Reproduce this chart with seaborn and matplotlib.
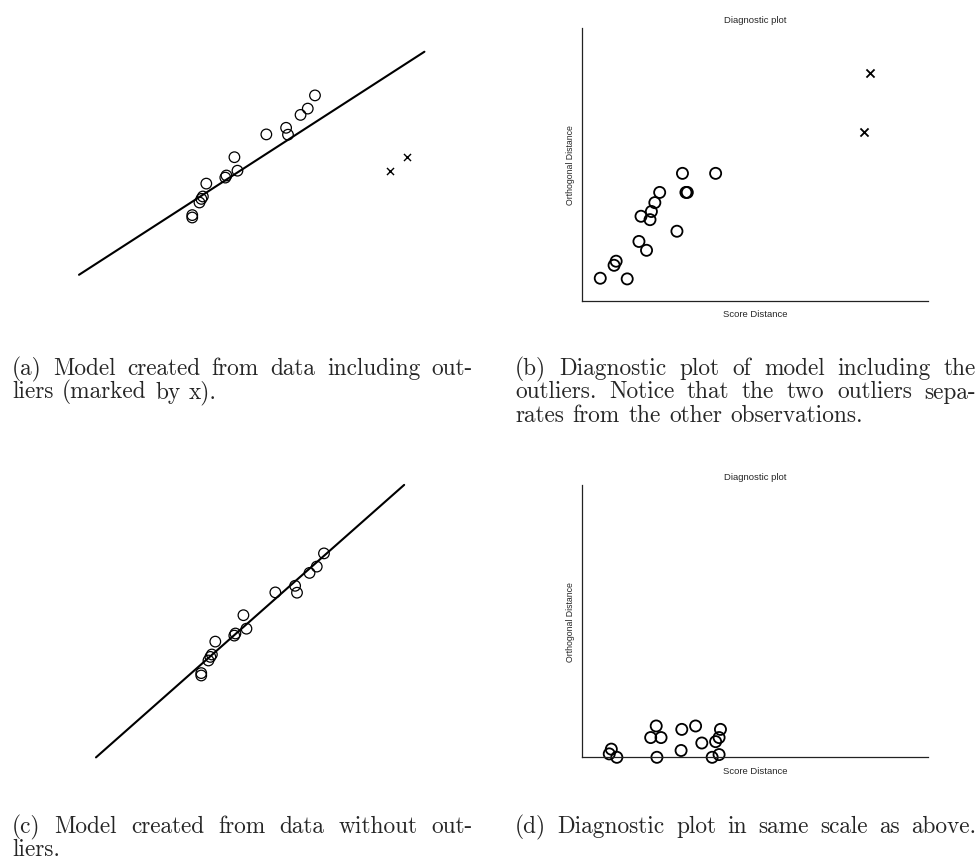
import numpy as np
import pandas as pd
import matplotlib
matplotlib.use("Agg")
import matplotlib.pyplot as plt
import seaborn as sns

# ---------------- data ----------------
# Panels (a)/(c): observations (arbitrary units)
obs_x = [3.48, 3.48, 3.67, 3.72, 3.76, 3.85, 4.35, 4.38, 4.59, 4.67,
         5.43, 5.95, 6.00, 6.33, 6.52, 6.71]
obs_y = [3.13, 3.05, 3.55, 3.67, 3.75, 4.18, 4.38, 4.45, 5.06, 4.61,
         5.82, 6.04, 5.81, 6.47, 6.68, 7.12]
outlier_x = [8.68, 9.14]
outlier_y = [4.60, 5.06]

# fitted model lines: [x_start, x_end], slope, intercept
fit_a_x = [0.50, 9.59]
fit_a_slope, fit_a_intercept = 0.818, 0.731
fit_c_x = [0.71, 8.82]
fit_c_slope, fit_c_intercept = 1.120, -0.475

# Panel (b): diagnostic plot with outliers
sd_with = [0.26, 0.65, 0.46, 0.49, 0.82, 0.93, 0.85, 0.98, 1.00, 1.05,
           1.12, 1.37, 1.45, 1.50, 1.52, 1.93]
od_with = [0.33, 0.32, 0.52, 0.58, 0.87, 0.74, 1.24, 1.19, 1.31, 1.44,
           1.59, 1.02, 1.87, 1.59, 1.59, 1.87]
sd_outliers = [4.16, 4.08]
od_outliers = [3.35, 2.47]

# Panel (d): diagnostic plot without outliers (same scale)
sd_without = [0.42, 0.39, 0.50, 1.07, 0.99, 1.14, 1.08, 1.44, 1.64, 1.43,
              1.73, 2.00, 1.98, 1.93, 1.88, 1.98]
od_without = [0.12, 0.05, 0.00, 0.46, 0.29, 0.29, 0.00, 0.41, 0.46, 0.10,
              0.21, 0.41, 0.29, 0.23, 0.00, 0.04]

diag_xlim = (0, 5)
diag_ylim = (0, 4)

captions = {
    "a": ["(a) Model created from data including out-",
          "liers (marked by x)."],
    "b": ["(b) Diagnostic plot of model including the",
          "outliers. Notice that the two outliers sepa-",
          "rates from the other observations."],
    "c": ["(c) Model created from data without out-",
          "liers."],
    "d": ["(d) Diagnostic plot in same scale as above."],
}

# ---------------- figure ----------------
sns.set_style("white")
W, H, DPI = 978, 862, 100
fig = plt.figure(figsize=(W / DPI, H / DPI), dpi=DPI)


def ax_px(left, top, right, bottom):
    return fig.add_axes([left / W, 1 - bottom / H, (right - left) / W, (bottom - top) / H])


def model_panel(ax, line_x, slope, intercept, with_outliers):
    df = pd.DataFrame({"x": obs_x, "y": obs_y})
    sns.scatterplot(data=df, x="x", y="y", ax=ax, marker="o", s=58,
                    facecolor="none", edgecolor="black", linewidth=0.9,
                    legend=False, clip_on=False)
    if with_outliers:
        sns.scatterplot(x=outlier_x, y=outlier_y, ax=ax, marker="x", s=26,
                        color="black", linewidth=1.0, legend=False)
    lx = np.array(line_x)
    ly = intercept + slope * lx
    sns.lineplot(x=lx, y=ly, ax=ax, color="black", linewidth=1.5)
    ax.set_xlim(0, 10)
    ax.set_ylim(0, 10)
    ax.axis("off")


def diag_panel(ax, sd, od, sd_x=None, od_x=None):
    sns.scatterplot(x=sd, y=od, ax=ax, marker="o", s=64,
                    facecolor="none", edgecolor="black", linewidth=1.3,
                    legend=False, clip_on=False)
    if sd_x is not None:
        sns.scatterplot(x=sd_x, y=od_x, ax=ax, marker="x", s=34,
                        color="black", linewidth=1.3, legend=False)
    ax.set_xlim(*diag_xlim)
    ax.set_ylim(*diag_ylim)
    ax.set_xticks([])
    ax.set_yticks([])
    for side in ["top", "right"]:
        ax.spines[side].set_visible(False)
    for side in ["left", "bottom"]:
        ax.spines[side].set_linewidth(0.9)
        ax.spines[side].set_color("#222222")
    sans = "Liberation Sans"
    ax.set_title("Diagnostic plot", fontsize=6.8, family=sans, pad=4.5)
    ax.set_xlabel("Score Distance", fontsize=6.8, family=sans, labelpad=6)
    ax.set_ylabel("Orthogonal Distance", fontsize=6.3, family=sans, labelpad=5)


ax_a = ax_px(60, 10, 440, 310)
model_panel(ax_a, fit_a_x, fit_a_slope, fit_a_intercept, True)

ax_c = ax_px(69, 468, 449, 768)
model_panel(ax_c, fit_c_x, fit_c_slope, fit_c_intercept, False)

ax_b = ax_px(582.3, 29.3, 927.7, 301.7)
diag_panel(ax_b, sd_with, od_with, sd_outliers, od_outliers)

ax_d = ax_px(582.3, 486.0, 927.7, 758.3)
diag_panel(ax_d, sd_without, od_without)

# ---------------- captions (justified like LaTeX) ----------------
renderer = fig.canvas.get_renderer()
CAP_SIZE = 16.8
space_px = 0.333 * CAP_SIZE * DPI / 72


def place_line(line, left, baseline, width=None):
    words = line.split(" ")
    objs = [fig.text(0, 0, w, fontsize=CAP_SIZE, family="cmr10",
                     va="baseline", ha="left") for w in words]
    widths = [o.get_window_extent(renderer).width for o in objs]
    gap = space_px * 1.1
    if width is not None and len(words) > 1:
        gap = max(space_px * 0.8, (width - sum(widths)) / (len(words) - 1))
    x = left
    for o, w in zip(objs, widths):
        o.set_position((x / W, 1 - baseline / H))
        x += w + gap


col_left = {"a": 12, "b": 515, "c": 12, "d": 515}
col_width = 461
row_base = {"a": 375, "b": 375, "c": 833, "d": 833}
line_step = 23.5

for key, lines in captions.items():
    n = len(lines)
    for i, line in enumerate(lines):
        justify = (i < n - 1) or key == "d"
        place_line(line, col_left[key], row_base[key] + i * line_step,
                   col_width if justify else None)

fig.savefig("out.png", dpi=DPI)
